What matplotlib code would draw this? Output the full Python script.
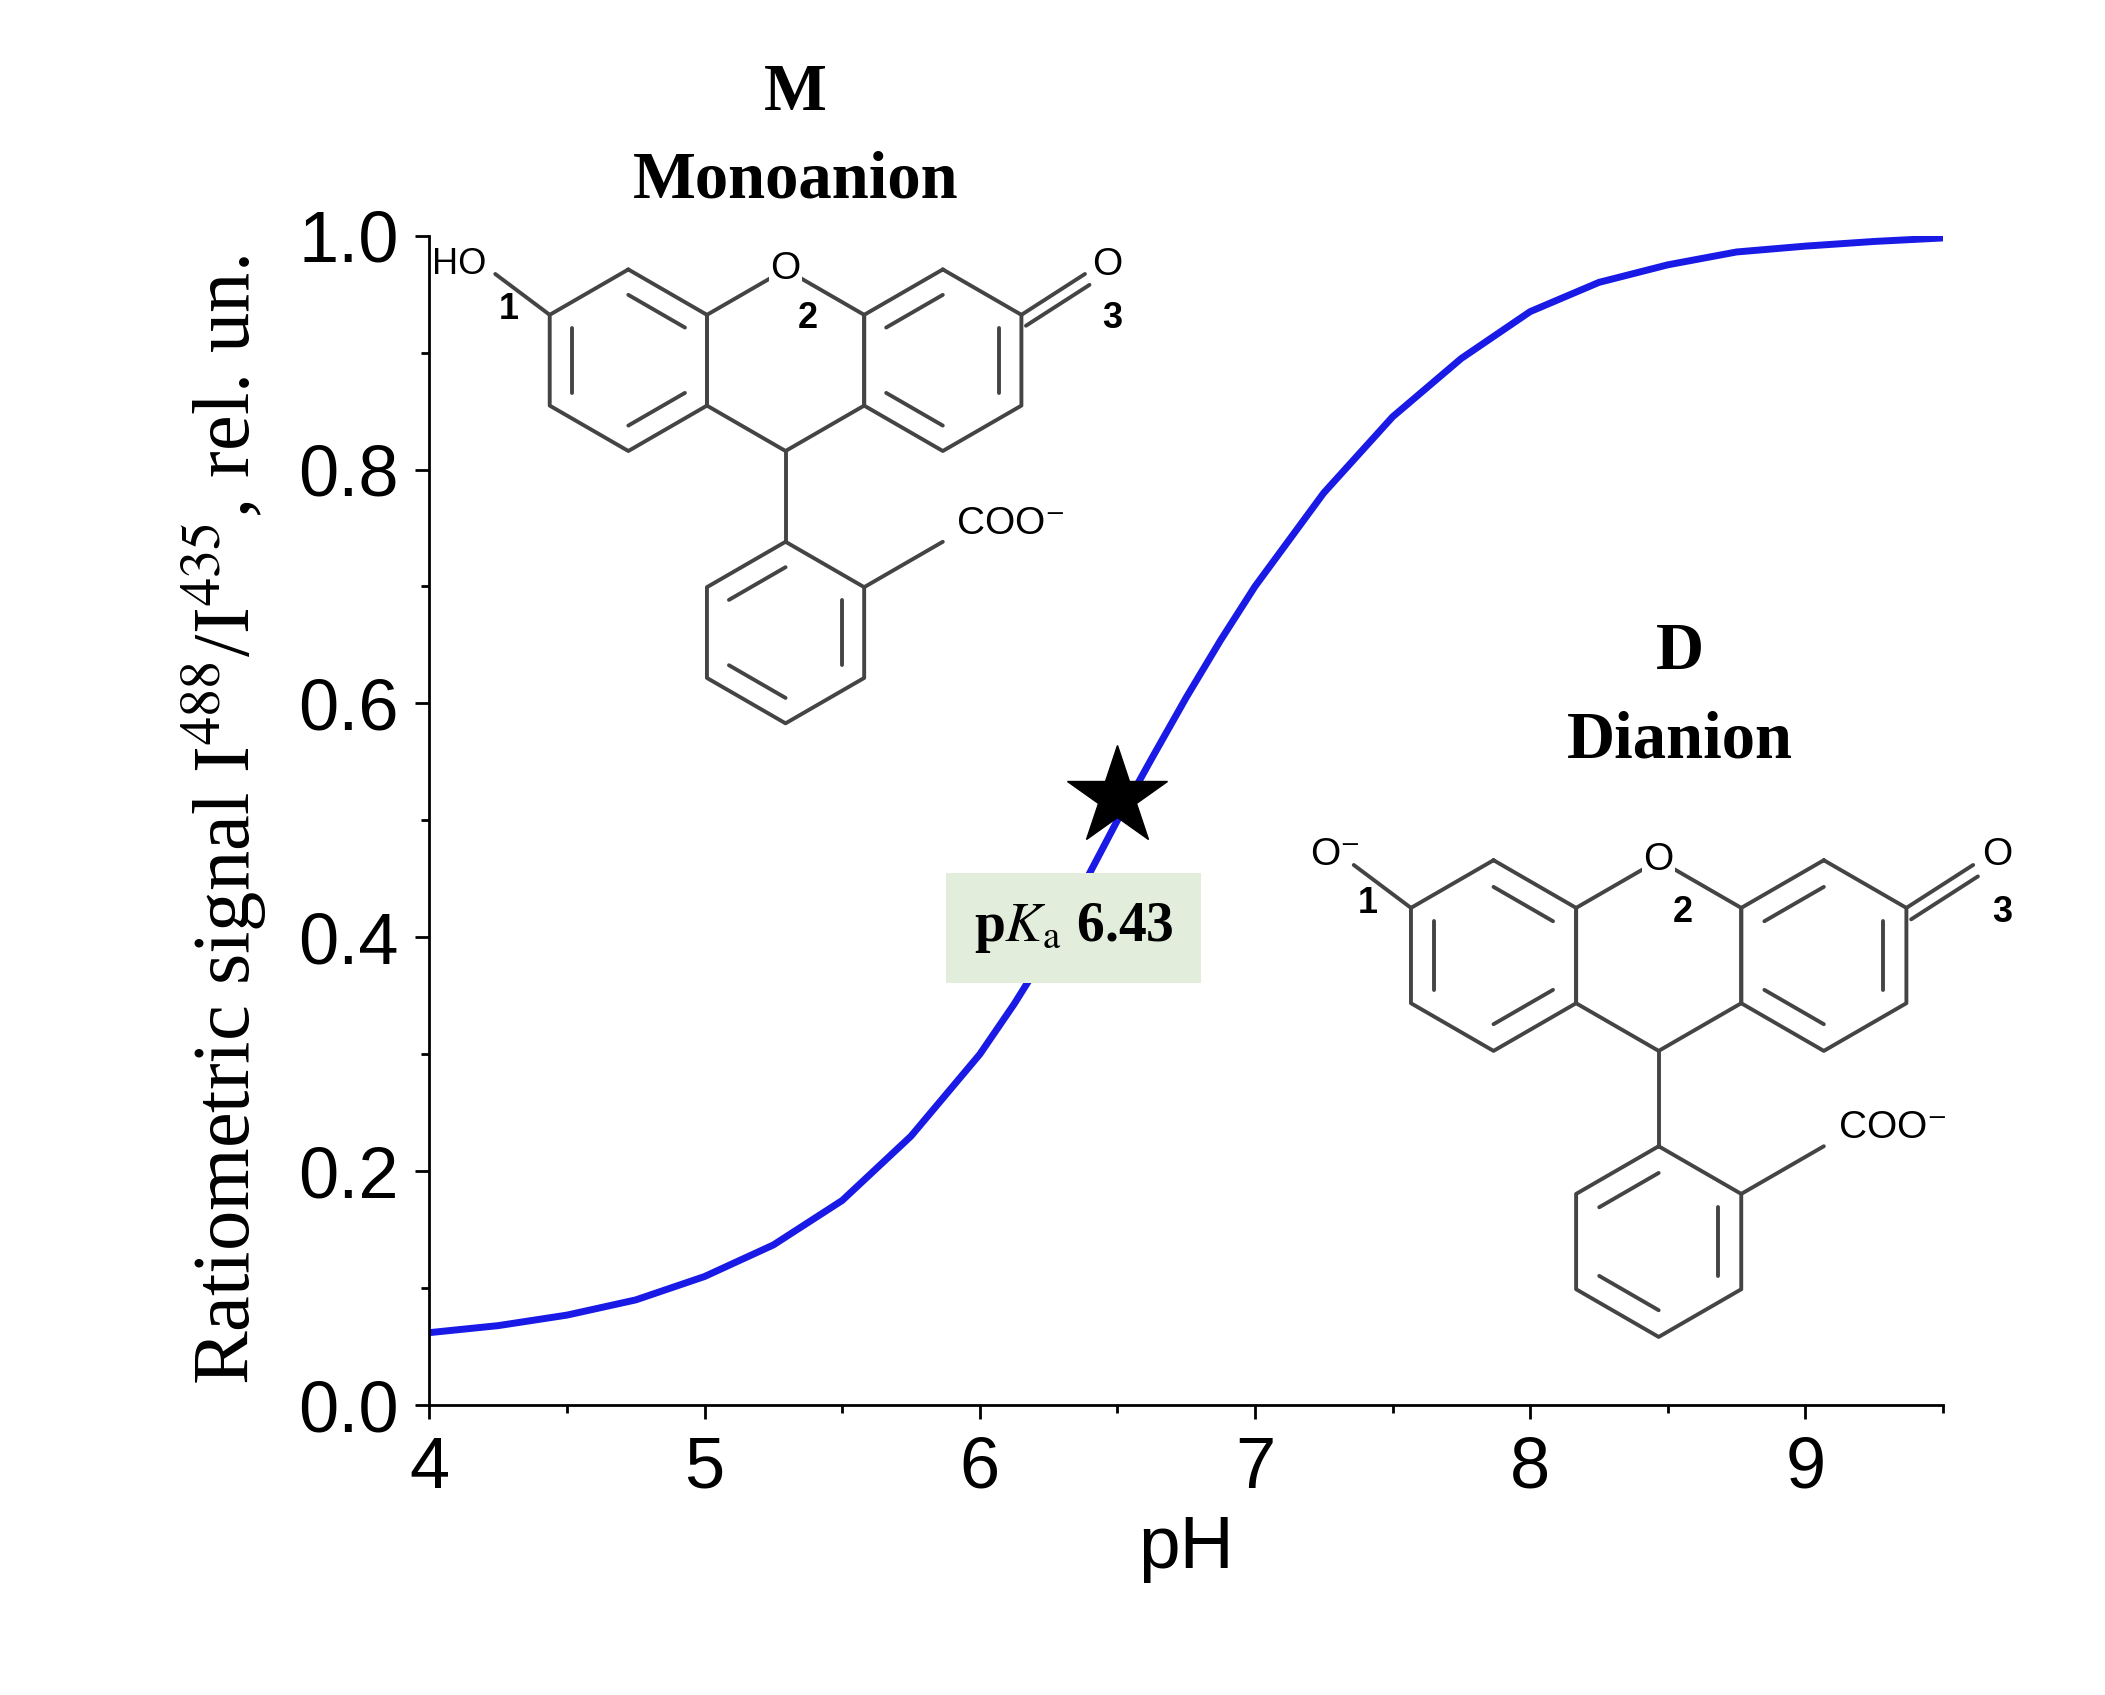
import numpy as np
import matplotlib.pyplot as plt
from matplotlib.ticker import MultipleLocator

# curve
ph = [4.0, 4.25, 4.5, 4.75, 5.0, 5.25, 5.5, 5.75, 6.0, 6.125, 6.25, 6.375, 6.5,
      6.625, 6.75, 6.875, 7.0, 7.25, 7.5, 7.75, 8.0, 8.25, 8.5, 8.75, 9.0, 9.25, 9.5]
signal = [0.062, 0.068, 0.077, 0.090, 0.110, 0.137, 0.175, 0.230, 0.300, 0.343,
          0.390, 0.444, 0.500, 0.553, 0.605, 0.654, 0.700, 0.780, 0.845, 0.895,
          0.935, 0.960, 0.975, 0.986, 0.991, 0.995, 0.998]
pka_point = (6.5, 0.52)
pka_label = r"p$\mathbf{\mathit{K}}_\mathrm{a}$ 6.43"

plt.rcParams["font.family"] = ["Liberation Sans", "DejaVu Sans"]
plt.rcParams["mathtext.fontset"] = "stix"
SERIF = ["Liberation Serif", "DejaVu Serif"]

fig = plt.figure(figsize=(21.05, 16.95), dpi=100)
ax = fig.add_axes([0.204, 0.171, 0.719, 0.690])
ax.plot(ph, signal, color="#1a1ae6", lw=5)
ax.plot(*pka_point, marker="*", color="black", markersize=75, zorder=5)
ax.text(6.34, 0.408, pka_label, family=SERIF, fontsize=40, fontweight="bold",
        ha="center", va="center",
        bbox=dict(boxstyle="square,pad=0.5", fc="#e2eedb", ec="none"))

ax.set_xlim(4, 9.5)
ax.set_ylim(0, 1.0)
ax.xaxis.set_major_locator(MultipleLocator(1))
ax.xaxis.set_minor_locator(MultipleLocator(0.5))
ax.yaxis.set_major_locator(MultipleLocator(0.2))
ax.yaxis.set_minor_locator(MultipleLocator(0.1))
ax.yaxis.set_major_formatter(plt.FuncFormatter(lambda v, p: f"{v:.1f}"))
ax.tick_params(labelsize=52, width=2, length=10, pad=12)
ax.tick_params(which="minor", width=2, length=6)
for s in ("top", "right"):
    ax.spines[s].set_visible(False)
for s in ("left", "bottom"):
    ax.spines[s].set_linewidth(2)
ax.set_xlabel("pH", fontsize=54, labelpad=8)
ax.set_ylabel(r"Ratiometric signal I$^{488}$/I$^{435}$, rel. un.",
              family=SERIF, fontsize=58, labelpad=22)


def draw_structure(rect, anion):
    a = fig.add_axes(rect)
    a.set_aspect("equal", adjustable="datalim")
    a.axis("off")
    kw = dict(color="#444444", lw=2.8, solid_capstyle="round")
    r3 = np.sqrt(3)

    def hexagon(cx, cy, inner):
        ang = np.radians(90 + 60 * np.arange(7))
        xs, ys = cx + np.cos(ang), cy + np.sin(ang)
        a.plot(xs, ys, **kw)
        for i in inner:
            x0, y0, x1, y1 = xs[i], ys[i], xs[i + 1], ys[i + 1]
            sx, sy = cx + 0.72 * (x0 - cx), cy + 0.72 * (y0 - cy)
            ex, ey = cx + 0.72 * (x1 - cx), cy + 0.72 * (y1 - cy)
            a.plot([sx, ex], [sy, ey], **kw)

    hexagon(-r3, 0, [1, 3, 5])
    hexagon(0, 0, [])
    hexagon(r3, 0, [0, 2, 4])
    hexagon(0, -3, [0, 2, 4])
    # exocyclic C=C inside middle ring (bottom)
    a.plot([0, 0], [-1, -2], **kw)
    a.plot([r3 / 2, r3], [-2.5, -2.0], **kw)
    a.plot([-1.5 * r3, -1.5 * r3 - 0.6], [0.5, 0.95], **kw)
    a.plot([1.5 * r3, 1.5 * r3 + 0.7], [0.5, 0.95], **kw)
    a.plot([1.5 * r3 + 0.05, 1.5 * r3 + 0.75], [0.38, 0.83], **kw)
    a.text(0, 1.0, "O", fontsize=28, ha="center", va="center",
           bbox=dict(fc="white", ec="none", pad=1))
    a.text(1.5 * r3 + 0.95, 1.05, "O", fontsize=28, ha="center", va="center")
    if anion:
        a.text(-1.5 * r3 - 0.8, 1.05, "O$^{-}$", fontsize=28, ha="center", va="center")
    else:
        a.text(-1.5 * r3 - 1.0, 1.05, "HO", fontsize=26, ha="center", va="center")
    a.text(r3 + 0.15, -2.0, "COO$^{-}$", fontsize=28, ha="left", va="bottom")
    a.text(-1.5 * r3 - 0.45, 0.45, "1", fontsize=26, fontweight="bold", ha="center")
    a.text(0.25, 0.35, "2", fontsize=26, fontweight="bold", ha="center")
    a.text(1.5 * r3 + 1.0, 0.35, "3", fontsize=26, fontweight="bold", ha="center")
    a.set_xlim(-3.9, 4.1)
    a.set_ylim(-4.2, 1.4)


draw_structure([0.205, 0.565, 0.345, 0.295], anion=False)
draw_structure([0.620, 0.200, 0.345, 0.315], anion=True)

fig.text(0.378, 0.945, "M", family=SERIF, fontsize=48, fontweight="bold", ha="center", va="center")
fig.text(0.378, 0.893, "Monoanion", family=SERIF, fontsize=48, fontweight="bold", ha="center", va="center")
fig.text(0.798, 0.615, "D", family=SERIF, fontsize=48, fontweight="bold", ha="center", va="center")
fig.text(0.798, 0.563, "Dianion", family=SERIF, fontsize=48, fontweight="bold", ha="center", va="center")

fig.savefig("out.png", dpi=100, facecolor="white")
